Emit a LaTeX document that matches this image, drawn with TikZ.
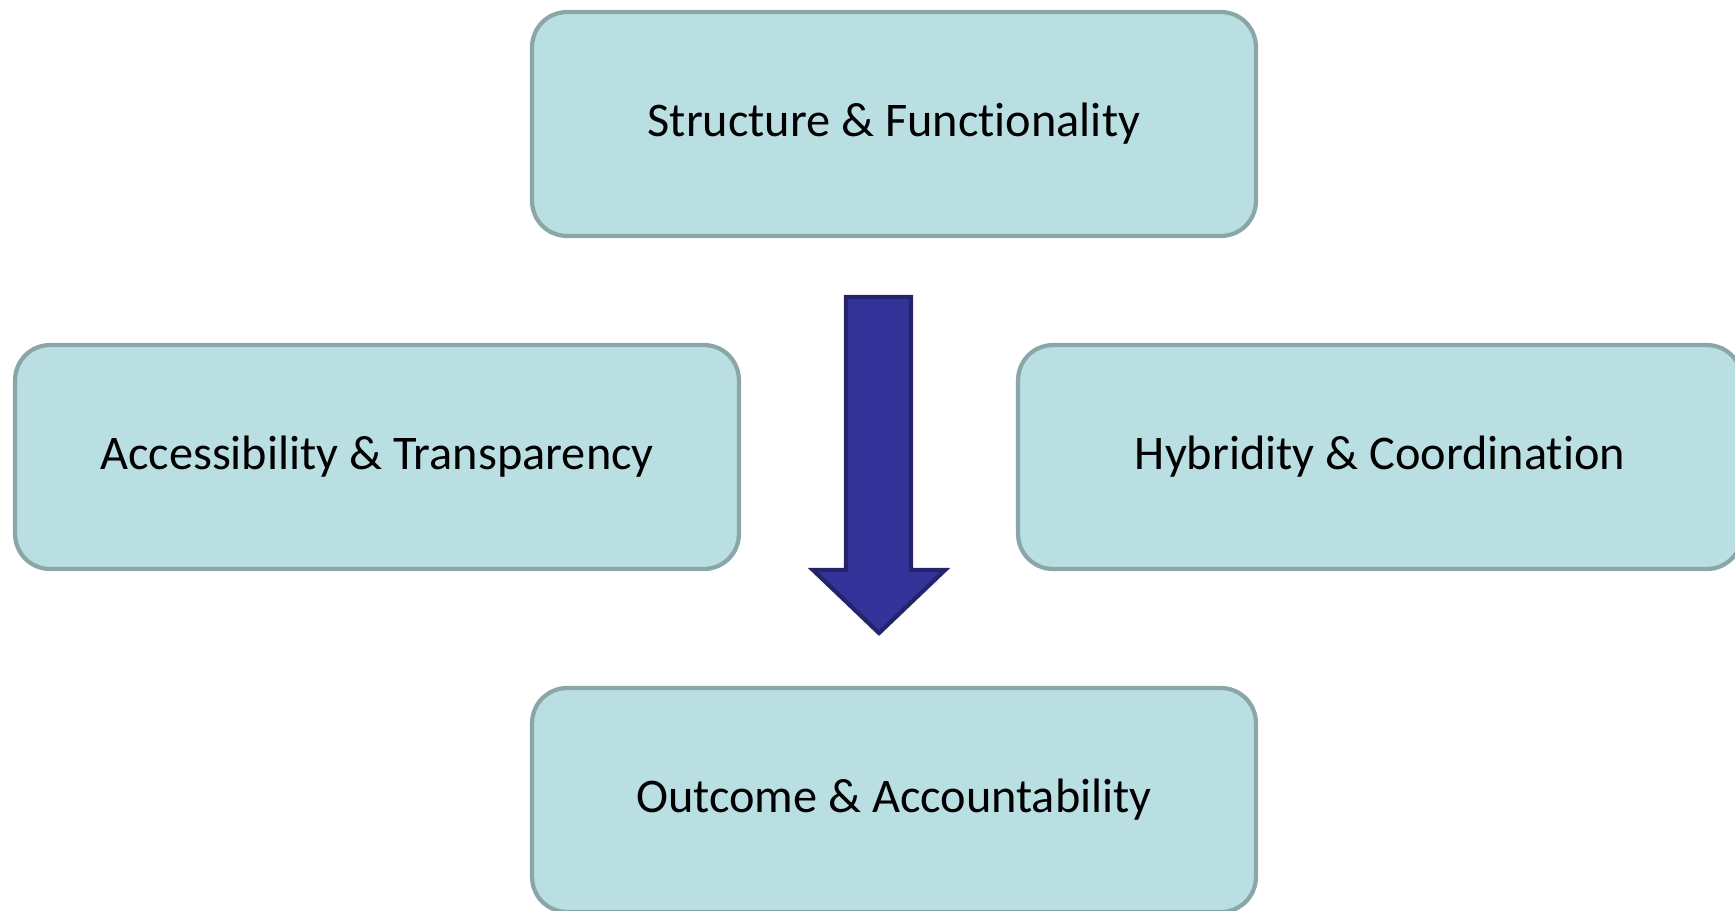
\documentclass[tikz,border=0pt]{standalone}
\usepackage{fontspec}
\setmainfont{Carlito}[Ligatures=NoCommon]
\usepackage{tikz}
\definecolor{boxfill}{HTML}{BADFE2}
\definecolor{boxline}{HTML}{8AA6A8}
\definecolor{arrowfill}{HTML}{333399}
\definecolor{arrowline}{HTML}{24246B}

\begin{document}
\begin{tikzpicture}[x=0.02cm, y=-0.02cm]
    \tikzstyle{pillar} = [rectangle, rounded corners=0.7cm, draw=boxline, line width=2.4pt, fill=boxfill, minimum width=14.48cm, minimum height=4.48cm, inner sep=0pt, font=\fontsize{27.5}{32}\selectfont]
    \useasboundingbox (0,0) rectangle (1735,910);
    \node[pillar] (structure) at (894, 124) {Structure \& Functionality};
    \node[pillar] (access) at (377, 457) {Accessibility \& Transparency};
    \node[pillar] (hybrid) at (1380, 457) {Hybridity \& Coordination};
    \node[pillar] (outcome) at (894, 800) {Outcome \& Accountability};
    % block arrow in the middle
    \draw[draw=arrowline, fill=arrowfill, line width=2.4pt]
        (846,297) -- (911,297) -- (911,570) -- (945,570) -- (879,633)
        -- (813,570) -- (846,570) -- cycle;
\end{tikzpicture}
\end{document}
